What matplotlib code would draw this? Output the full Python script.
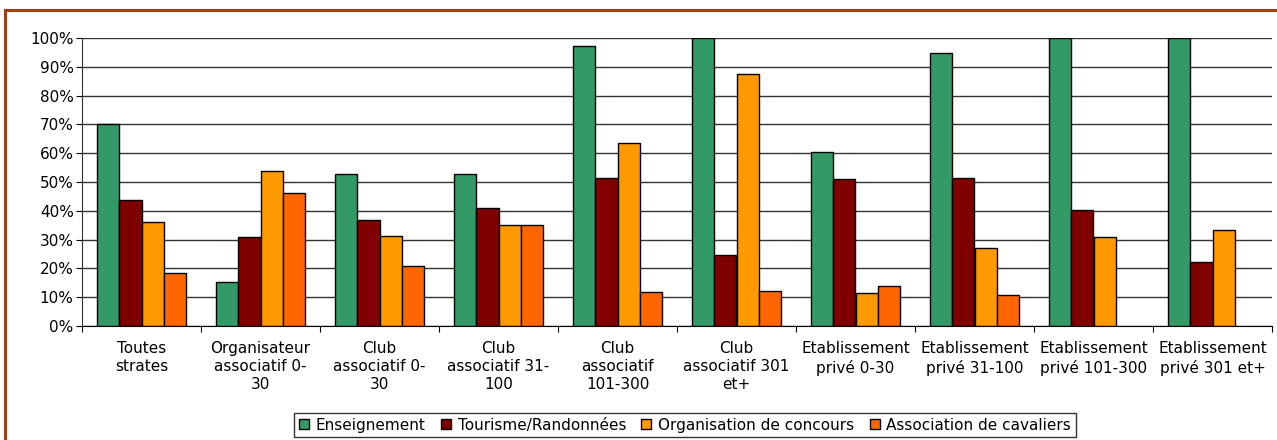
import numpy as np
import matplotlib.pyplot as plt
from matplotlib.lines import Line2D
from matplotlib.ticker import PercentFormatter

categories = ["Toutes\nstrates", "Organisateur\nassociatif 0-\n30", "Club\nassociatif 0-\n30",
              "Club\nassociatif 31-\n100", "Club\nassociatif\n101-300", "Club\nassociatif 301\net+",
              "Etablissement\nprivé 0-30", "Etablissement\nprivé 31-100", "Etablissement\nprivé 101-300",
              "Etablissement\nprivé 301 et+"]
series = ["Enseignement", "Tourisme/Randonnées", "Organisation de concours", "Association de cavaliers"]
enseignement = [70, 15.3, 52.8, 52.8, 97.1, 100, 60.4, 94.8, 100, 100]
tourisme = [43.8, 30.9, 36.8, 40.9, 51.3, 24.7, 50.9, 51.3, 40.4, 22.2]
concours = [36.1, 53.8, 31.4, 35.1, 63.7, 87.6, 11.3, 27.0, 30.8, 33.2]
cavaliers = [18.4, 46.2, 20.8, 35.1, 11.7, 12.3, 13.8, 10.8, np.nan, np.nan]
colors = ["#339966", "#800000", "#FF9900", "#FF6600"]

plt.rcParams['font.family'] = ['DejaVu Sans']

fig = plt.figure(figsize=(12.77, 4.4), dpi=100)
ax = fig.add_axes([82 / 1277, 1 - 326 / 440, 1190 / 1277, 288 / 440])

x = np.arange(len(categories))
w = 0.185
for k, (vals, name) in enumerate(zip([enseignement, tourisme, concours, cavaliers], series)):
    ax.bar(x + (k - 1.5) * w, vals, width=w, color=colors[k], edgecolor="black",
           linewidth=1, label=name, zorder=3)

ax.set_xlim(-0.5, len(categories) - 0.5)
ax.set_ylim(0, 100)
ax.set_yticks(np.arange(0, 101, 10))
ax.yaxis.set_major_formatter(PercentFormatter(decimals=0))
ax.grid(axis="y", color="#333333", linewidth=1, zorder=0)

ax.set_xticks(np.arange(-0.5, len(categories), 1))
ax.set_xticklabels([])
ax.set_xticks(x, minor=True)
ax.set_xticklabels(categories, minor=True, fontsize=11, va="top", linespacing=1.25)
ax.tick_params(axis="x", which="major", length=4, direction="out")
ax.tick_params(axis="x", which="minor", length=0, pad=11)
ax.tick_params(axis="y", length=4, direction="out", labelsize=11, pad=2)

for s in ["top", "right"]:
    ax.spines[s].set_visible(False)
ax.spines["left"].set_color("#333333")
ax.spines["bottom"].set_color("black")

leg = fig.legend(loc="center", bbox_to_anchor=(685 / 1277, 1 - 425 / 440), ncol=4,
                 fontsize=11, frameon=True, fancybox=False, edgecolor="black",
                 handlelength=0.65, handleheight=0.65, handletextpad=0.45, columnspacing=1.0,
                 borderpad=0.3, borderaxespad=0)
leg.get_frame().set_linewidth(1)

frame_color = "#A0400F"
fig.add_artist(Line2D([5 / 1277, 5 / 1277], [0, 1 - 10 / 440], color=frame_color, lw=2.2,
                      transform=fig.transFigure))
fig.add_artist(Line2D([5 / 1277, 1], [1 - 10 / 440, 1 - 10 / 440], color=frame_color, lw=2.2,
                      transform=fig.transFigure))

fig.savefig("out.png", dpi=100)
